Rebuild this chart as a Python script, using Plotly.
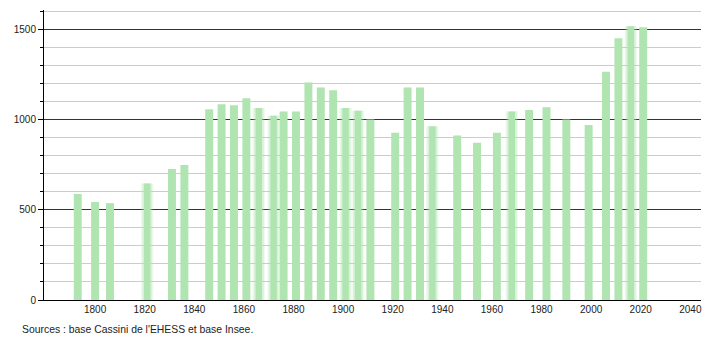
import plotly.graph_objects as go

years = [1793, 1800, 1806, 1821, 1831, 1836, 1846, 1851, 1856, 1861, 1866, 1872,
         1876, 1881, 1886, 1891, 1896, 1901, 1906, 1911, 1921, 1926, 1931, 1936,
         1946, 1954, 1962, 1968, 1975, 1982, 1990, 1999, 2006, 2011, 2016, 2021]
population = [588, 543, 537, 646, 726, 748, 1058, 1086, 1080, 1119, 1064, 1021,
              1045, 1045, 1206, 1178, 1163, 1064, 1049, 1001, 927, 1178, 1178, 964,
              912, 872, 927, 1045, 1053, 1069, 1001, 970, 1265, 1452, 1518, 1512]
fuzzy_years = [1821, 1866, 1872, 1901, 1906, 1936, 1968, 2016]
x_ticks = [1800, 1820, 1840, 1860, 1880, 1900, 1920, 1940, 1960, 1980, 2000, 2020, 2040]
source_text = "Sources : base Cassini de l'EHESS et base Insee."

GREEN = "rgb(176,228,176)"

sharp_x = [y for y in years if y not in fuzzy_years]
sharp_v = [p for y, p in zip(years, population) if y not in fuzzy_years]
fz_x = [y for y in years if y in fuzzy_years]
fz_v = [p for y, p in zip(years, population) if y in fuzzy_years]

fig = go.Figure()
fig.add_trace(go.Bar(x=sharp_x, y=sharp_v, width=3.2, marker=dict(color=GREEN, line=dict(width=0)),
                     hoverinfo="x+y", showlegend=False))
for w, op in [(5.0, 0.18), (4.0, 0.35), (2.6, 1.0)]:
    fig.add_trace(go.Bar(x=fz_x, y=fz_v, width=w, opacity=op,
                         marker=dict(color=GREEN, line=dict(width=0)),
                         hoverinfo="x+y", showlegend=False))

fig.update_layout(
    barmode="overlay",
    width=710, height=340,
    margin=dict(l=44, r=9, t=10, b=40),
    paper_bgcolor="white", plot_bgcolor="white",
    font=dict(family="Liberation Sans, Arial, sans-serif", size=10, color="#222"),
    xaxis=dict(range=[1779.4, 2044.3], tickvals=x_ticks, ticks="", showgrid=False,
               showline=True, linecolor="black", linewidth=1, zeroline=False,
               tickfont=dict(size=10)),
    yaxis=dict(range=[0, 1608], dtick=500, tick0=0, ticks="outside", ticklen=5,
               tickcolor="black", showline=True, linecolor="black", linewidth=1,
               showgrid=True, gridcolor="#333", gridwidth=1, zeroline=False,
               tickfont=dict(size=10),
               minor=dict(dtick=100, ticks="outside", ticklen=3, tickcolor="black",
                          showgrid=True, gridcolor="#cccccc", gridwidth=1)),
    annotations=[dict(text=source_text, xref="paper", yref="paper",
                      x=-24 / 657, y=-29 / 290, xanchor="left", yanchor="middle",
                      showarrow=False, font=dict(size=10.4, color="#222"))],
)

fig.write_html("out.html")
